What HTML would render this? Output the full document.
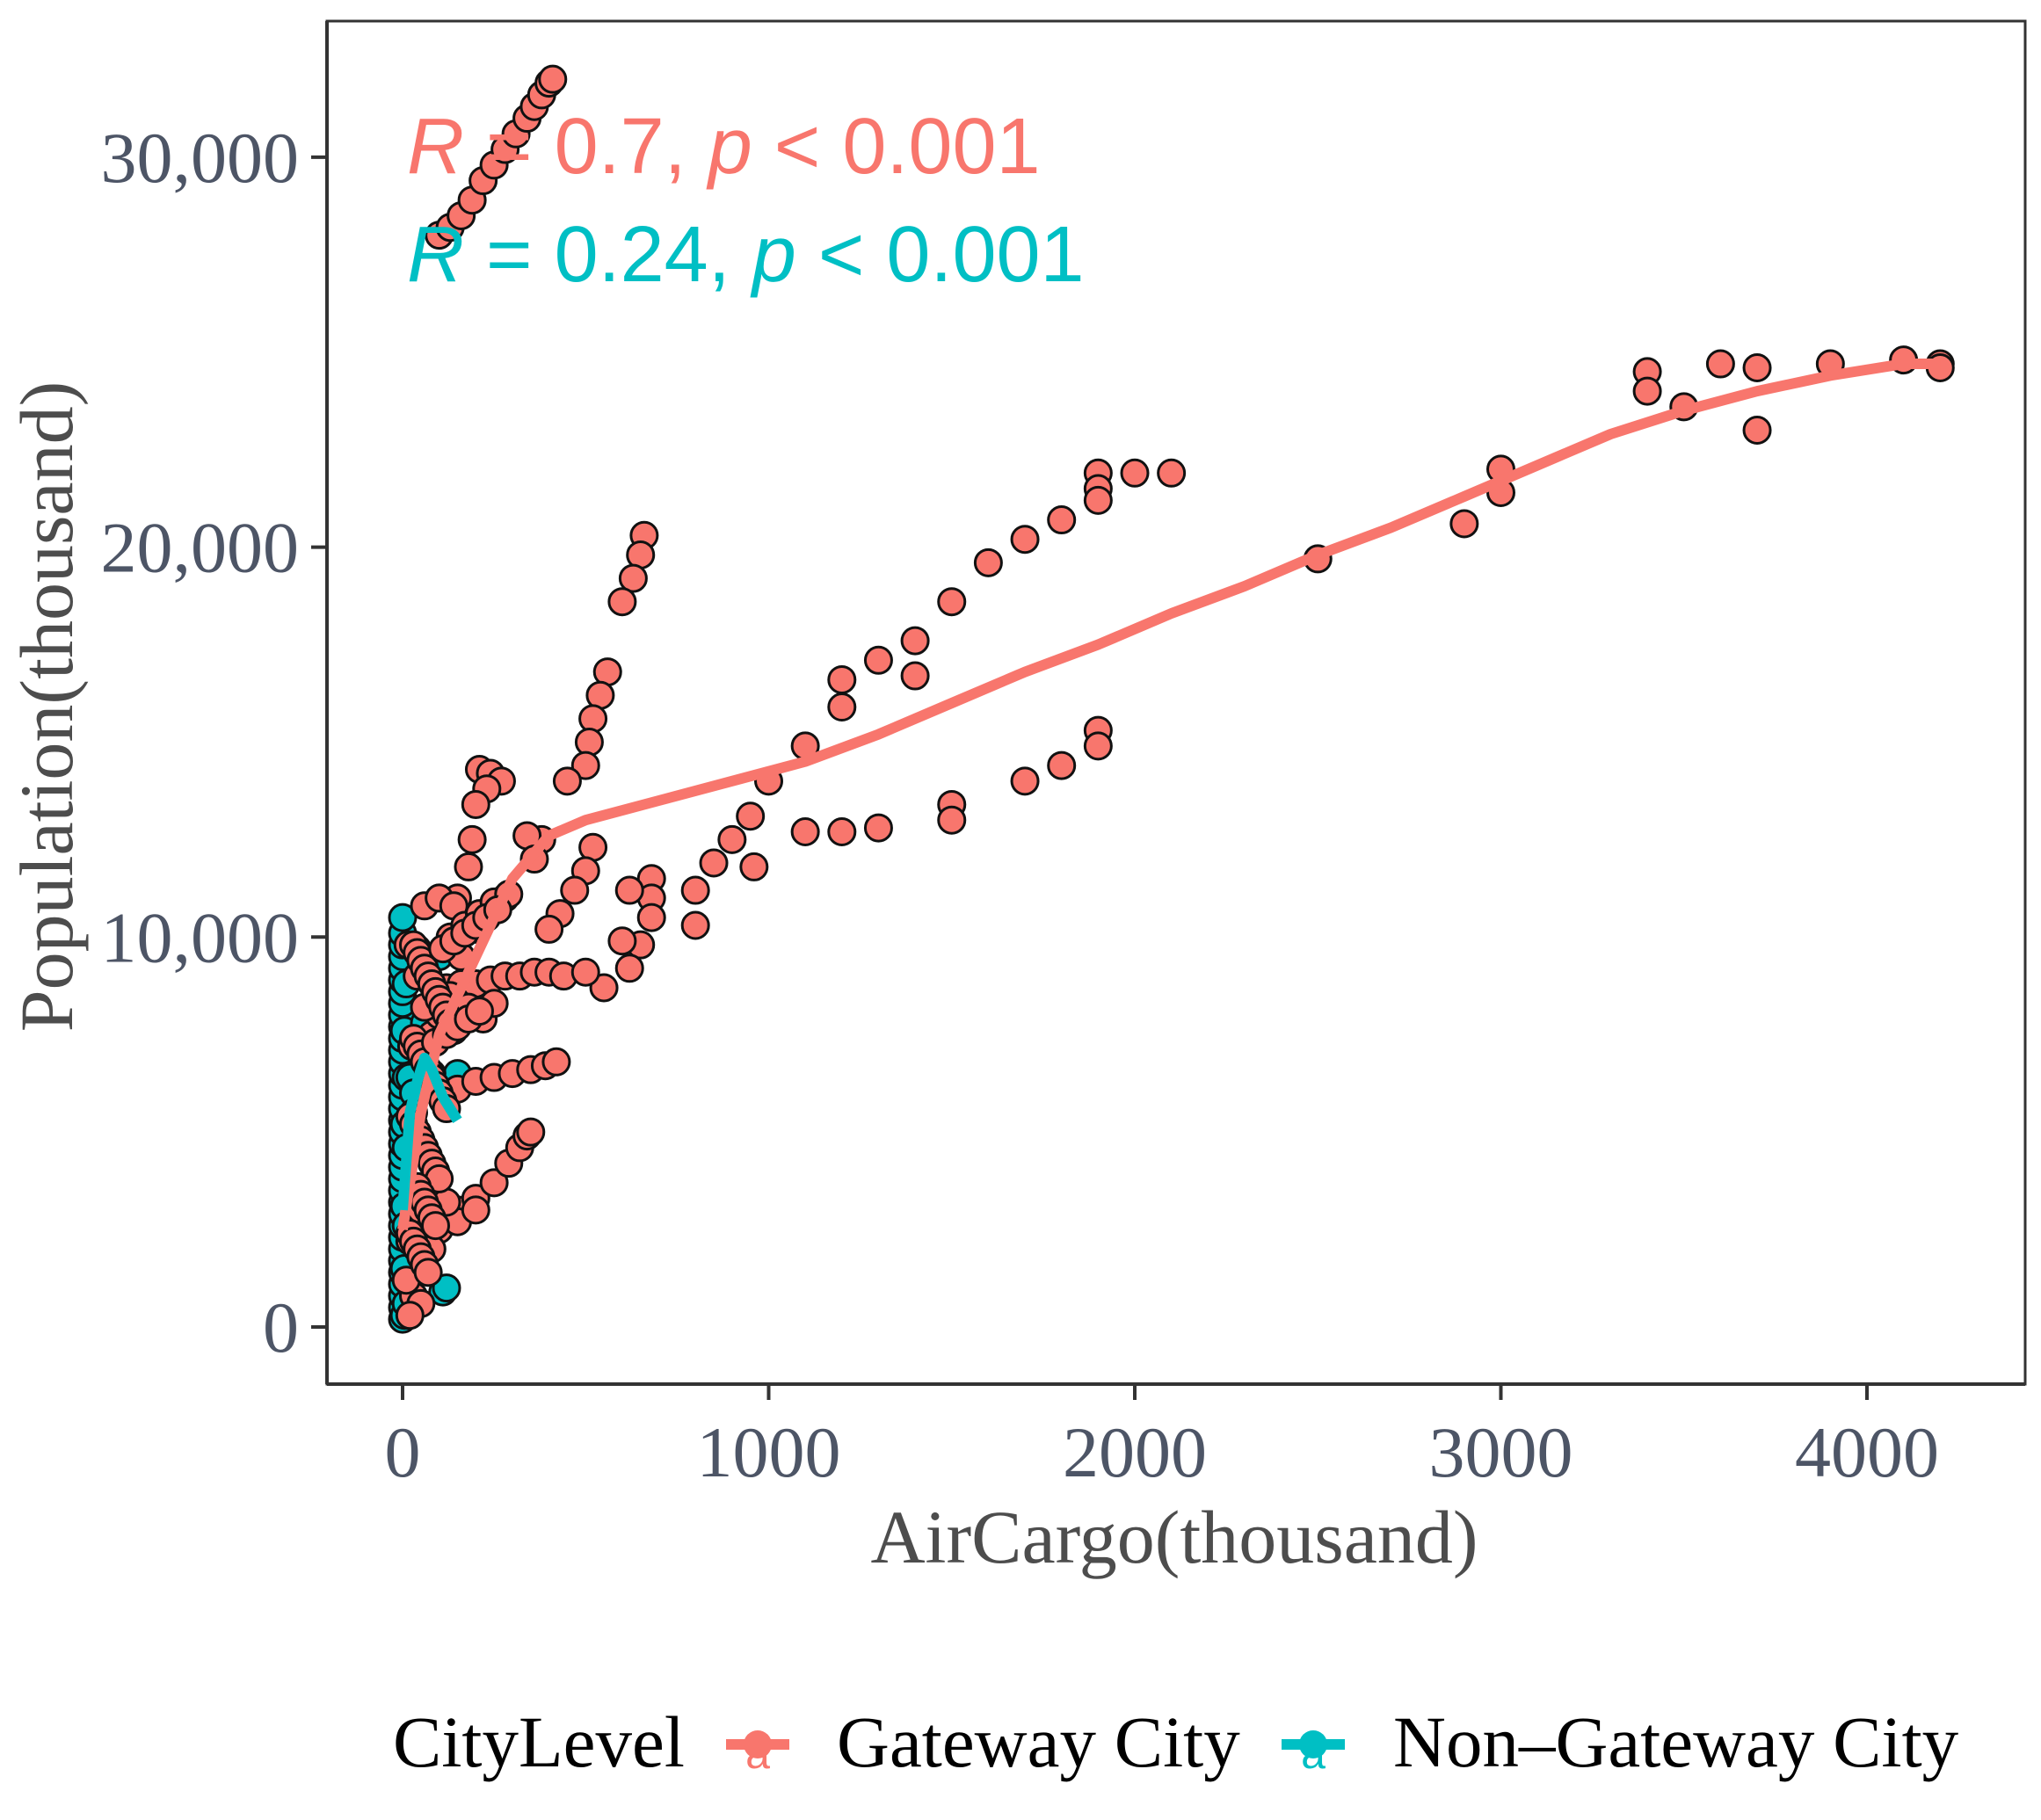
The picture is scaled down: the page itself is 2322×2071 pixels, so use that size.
<!DOCTYPE html>
<html><head><meta charset="utf-8"><style>
html,body{margin:0;padding:0;background:#fff}
svg{display:block}
.tick{font-family:"Liberation Serif",serif;font-size:82px;fill:#4d5566}
.title{font-family:"Liberation Serif",serif;font-size:86px;fill:#4d4d4d}
.leg{font-family:"Liberation Serif",serif;font-size:83px;fill:#000}
.ann{font-family:"Liberation Sans",sans-serif;font-size:90px}
</style></head><body>
<svg id="chart" width="2322" height="2071" viewBox="0 0 2322 2071">
<rect x="372" y="24" width="1932" height="1551" fill="#fff" stroke="#333" stroke-width="3"/>
<g id="axes"></g>
<g id="marks"></g>
<text class="ann" x="463" y="197" fill="#F8766D"><tspan font-style="italic">R</tspan> = 0.7, <tspan font-style="italic">p</tspan> &lt; 0.001</text>
<text class="ann" x="463" y="320" fill="#00BFC4"><tspan font-style="italic">R</tspan> = 0.24, <tspan font-style="italic">p</tspan> &lt; 0.001</text>
<text class="title" x="1336" y="1778" text-anchor="middle">AirCargo(thousand)</text>
<text class="title" transform="translate(82,804) rotate(-90)" text-anchor="middle">Population(thousand)</text>
<g>
<text class="leg" x="447" y="2010">CityLevel</text>
<g>
<line x1="826" y1="1985" x2="898" y2="1985" stroke="#F8766D" stroke-width="12"/>
<circle cx="862" cy="1985" r="16" fill="#F8766D"/>
<text x="862" y="2012" text-anchor="middle" font-family="Liberation Sans,sans-serif" font-size="50" fill="#F8766D">a</text>
<text class="leg" x="952" y="2010">Gateway City</text></g>
<g>
<line x1="1458" y1="1985" x2="1530" y2="1985" stroke="#00BFC4" stroke-width="12"/>
<circle cx="1494" cy="1985" r="16" fill="#00BFC4"/>
<text x="1494" y="2012" text-anchor="middle" font-family="Liberation Sans,sans-serif" font-size="50" fill="#00BFC4">a</text>
<text class="leg" x="1585" y="2010">Non–Gateway City</text></g>
</g>
</svg>
<script>
const xTicks=[0,1000,2000,3000,4000];
const yTicks=[0,10000,20000,30000];
const yTickLabels=["0","10,000","20,000","30,000"];
const gatewayX=[100,130,160,190,220,250,280,310,340,360,380,400,410,
1900,1900,1900,2000,2100,1800,1700,1600,1500,1400,1400,1300,1200,1200,1100,1000,950,900,850,800,800,960,
1900,1900,1800,1700,1500,1500,1300,1200,1100,680,680,680,650,620,600,550,620,
2500,2900,3000,3000,3400,3400,3500,3600,3700,3700,3900,4100,4200,4200,
660,650,630,600,560,540,520,510,500,450,520,500,470,430,400,380,340,360,
210,240,270,230,200,190,180,150,
120,160,200,240,280,320,360,400,440,500,
100,150,200,250,300,350,390,420,
100,150,200,250,290,320,340,350,
100,150,200,80,60,30,50,20,
50,80,100,130,160,200,240,280,60,100,140,40,60,80,40,60,90,30,50,120,150,180,220,250,10,20,30,15,25,
30,40,50,60,70,80,90,100,110,120,130,140,30,40,50,60,70,80,90,100,110,120,20,30,40,50,60,70,80,90,100,40,50,60,70,80,90,20,30,40,50,60,70,
130,170,210,250,290,110,140,170,200,230,260,90,120,150,180,210];
const gatewayY=[28000,28200,28500,28900,29400,29800,30200,30600,31000,31300,31600,31900,32000,
21900,21500,21200,21900,21900,20700,20200,19600,18600,17600,16700,17100,16600,15900,14900,14000,13100,12500,11900,11200,10300,11800,
15300,14900,14400,14000,13400,13000,12800,12700,12700,11500,11000,10500,9800,9200,9900,8700,11200,
19700,20600,22000,21400,24500,24000,23600,24700,24600,23000,24700,24800,24700,24600,
20300,19800,19200,18600,16800,16200,15600,15000,14400,14000,12300,11700,11200,10600,10200,12500,12600,12000,
14300,14200,14000,13800,13400,12500,11800,11000,
8700,8800,8800,8900,9000,9000,9100,9100,9000,9100,
6000,6100,6300,6400,6500,6600,6700,6800,
2800,3000,3300,3700,4200,4600,4900,5000,
2500,2700,3000,2000,1500,800,600,300,
7000,7500,8000,8500,9500,10200,10700,11000,10800,11000,10800,9000,8200,6500,5000,4500,4000,3500,3000,3200,7800,8200,7900,8300,1200,2200,5500,9800,7200,
9800,9600,9400,9200,9000,8800,8600,8400,8200,8000,7800,7600,7400,7200,7000,6800,6600,6400,6200,6000,5800,5600,5400,5200,5000,4800,4600,4400,4200,4000,3800,3600,3400,3200,3000,2800,2600,2400,2200,2000,1800,1600,1400,
10000,10300,10600,10900,11100,9700,9900,10100,10300,10500,10700,7300,7500,7700,7900,8100];
const nonGatewayX=[0,0,0,0,0,0,0,0,0,0,0,0,0,0,0,0,0,0,0,0,0,0,0,0,0,0,0,0,0,0,0,0,0,0,0,5,5,5,5,5,10,10,10,10,10,100,150,110,120,60,20,30,40];
const nonGatewayY=[200,500,800,1100,1400,1700,2000,2300,2600,2900,3200,3500,3800,4100,4400,4700,5000,5300,5600,5900,6200,6500,6800,7100,7400,7700,8000,8300,8600,8900,9200,9500,9800,10100,10500,300,1500,3100,5200,7600,600,2600,4600,6400,8800,9500,6500,900,1000,7800,6400,6000,9700];
const gatewayFitX=[0,50,100,200,300,400,500,700,900,1100,1300,1500,1700,1900,2100,2300,2500,2700,2900,3100,3300,3500,3700,3900,4100,4200];
const gatewayFitY=[2500,5500,7500,9500,11500,12600,13000,13500,14000,14500,15200,16000,16800,17500,18300,19000,19800,20500,21300,22100,22900,23500,24000,24400,24700,24700];
const nonGatewayFitX=[0,20,40,60,80,110,150];
const nonGatewayFitY=[3000,5500,6300,6900,6600,5900,5300];

const NS="http://www.w3.org/2000/svg";
const xs=v=>458+v*0.4165;
const ys=v=>1510-v*0.04437;
function mk(tag,attrs,parent){const e=document.createElementNS(NS,tag);for(const k in attrs)e.setAttribute(k,attrs[k]);parent.appendChild(e);return e;}
const axes=document.getElementById('axes');
const marks=document.getElementById('marks');
mk('line',{x1:372,y1:1575,x2:2304,y2:1575,stroke:'#333','stroke-width':4},axes);
mk('line',{x1:372,y1:24,x2:372,y2:1575,stroke:'#333','stroke-width':4},axes);
xTicks.forEach(t=>{
  const l=mk('line',{x1:xs(t),y1:1575,x2:xs(t),y2:1593,stroke:'#333','stroke-width':4},axes);
  
  
  const tx=mk('text',{x:xs(t),y:1680,'text-anchor':'middle',class:'tick'},axes);
  tx.textContent=t;
  
  
});
yTicks.forEach((t,i)=>{
  const l=mk('line',{x1:354,y1:ys(t),x2:372,y2:ys(t),stroke:'#333','stroke-width':4},axes);
  
  
  const tx=mk('text',{x:340,y:ys(t)+28,'text-anchor':'end',class:'tick'},axes);
  tx.textContent=yTickLabels[i];
  
  
});
nonGatewayX.forEach((x,i)=>{
  if(nonGatewayY[i]===undefined) return;
  const c=mk('circle',{cx:xs(x),cy:ys(nonGatewayY[i]),r:15,fill:'#00BFC4',stroke:'#111','stroke-width':3},marks);
  
  
});
gatewayX.forEach((x,i)=>{
  if(gatewayY[i]===undefined) return;
  const c=mk('circle',{cx:xs(x),cy:ys(gatewayY[i]),r:15,fill:'#F8766D',stroke:'#111','stroke-width':3},marks);
  
  
});
const g1=mk('polyline',{points:gatewayFitX.map((x,i)=>xs(x)+','+ys(gatewayFitY[i])).join(' '),fill:'none',stroke:'#F8766D','stroke-width':12,'stroke-linejoin':'round'},marks);


const g2=mk('polyline',{points:nonGatewayFitX.map((x,i)=>xs(x)+','+ys(nonGatewayFitY[i])).join(' '),fill:'none',stroke:'#00BFC4','stroke-width':12,'stroke-linejoin':'round'},marks);


</script>
</body></html>
